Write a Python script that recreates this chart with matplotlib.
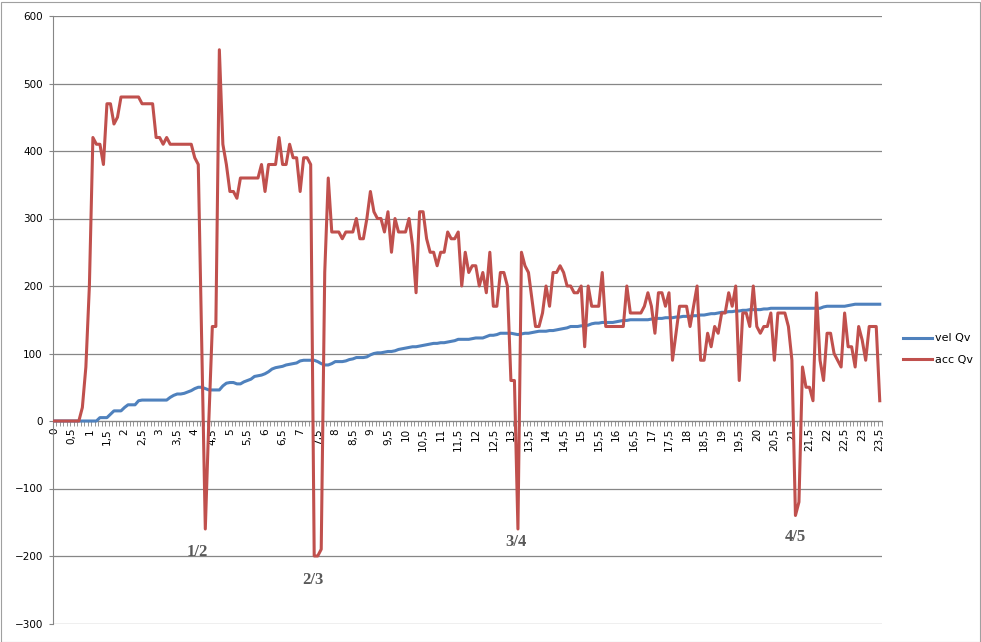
import matplotlib
matplotlib.use("Agg")
import matplotlib.pyplot as plt
from matplotlib.patches import Rectangle
from matplotlib.ticker import FixedLocator, MultipleLocator

# time categories 0.0 .. 23.5 step 0.1
time_labels = [f"{i/10:g}".replace(".", ",") for i in range(236)]

vel_qv = [0]*13 + [
    5, 5, 5, 10, 15, 15, 15, 20, 24, 24, 24, 30, 31, 31, 31, 31, 31, 31, 31, 31,
    35, 38, 40, 40, 41, 43, 45, 48, 50, 50, 48, 46, 46, 46, 46, 52, 56, 57, 57, 55,
    55, 58, 60, 62, 66, 67, 68, 70, 73, 77, 79, 80, 81, 83, 84, 85, 86, 89, 90, 90,
    90, 90, 88, 85, 83, 83, 85, 88, 88, 88, 89, 91, 92, 94, 94, 94, 95, 98, 100, 101,
    101, 102, 103, 103, 104, 106, 107, 108, 109, 110, 110, 111, 112, 113, 114, 115, 115, 116, 116, 117,
    118, 119, 121, 121, 121, 121, 122, 123, 123, 123, 125, 127, 127, 128, 130, 130, 130, 130, 129, 128,
    129, 130, 130, 131, 132, 133, 133, 133, 134, 134, 135, 136, 137, 138, 140, 140, 140, 141, 141, 142,
    144, 145, 145, 146, 146, 146, 146, 147, 148, 149, 149, 150, 150, 150, 150, 150, 150, 151, 152, 152,
    152, 153, 153, 153, 154, 154, 155, 155, 155, 156, 156, 157, 157, 158, 159, 159, 160, 161, 161, 162,
    162, 163, 163, 164, 164, 165, 165, 165, 165, 166, 166, 167, 167, 167, 167, 167, 167, 167, 167, 167,
    167, 167, 167, 167, 167, 167, 169, 170, 170, 170, 170, 170, 170, 171, 172, 173, 173, 173, 173, 173,
    173, 173, 173]

acc_qv = [
    0, 0, 0, 0, 0, 0, 0, 0, 20, 80, 200, 420, 410, 410, 380, 470, 470, 440, 450, 480,
    480, 480, 480, 480, 480, 470, 470, 470, 470, 420, 420, 410, 420, 410, 410, 410, 410, 410, 410, 410,
    390, 380, 110, -160, 0, 140, 140, 550, 410, 380, 340, 340, 330, 360, 360, 360, 360, 360, 360, 380,
    340, 380, 380, 380, 420, 380, 380, 410, 390, 390, 340, 390, 390, 380, -200, -200, -190, 220, 360, 280,
    280, 280, 270, 280, 280, 280, 300, 270, 270, 300, 340, 310, 300, 300, 280, 310, 250, 300, 280, 280,
    280, 300, 260, 190, 310, 310, 270, 250, 250, 230, 250, 250, 280, 270, 270, 280, 200, 250, 220, 230,
    230, 200, 220, 190, 250, 170, 170, 220, 220, 200, 60, 60, -160, 250, 230, 220, 180, 140, 140, 160,
    200, 170, 220, 220, 230, 220, 200, 200, 190, 190, 200, 110, 200, 170, 170, 170, 220, 140, 140, 140,
    140, 140, 140, 200, 160, 160, 160, 160, 170, 190, 170, 130, 190, 190, 170, 190, 90, 130, 170, 170,
    170, 140, 170, 200, 90, 90, 130, 110, 140, 130, 160, 160, 190, 170, 200, 60, 160, 160, 140, 200,
    140, 130, 140, 140, 160, 90, 160, 160, 160, 140, 90, -140, -120, 80, 50, 50, 30, 190, 90, 60,
    130, 130, 100, 90, 80, 160, 110, 110, 80, 140, 120, 90, 140, 140, 140, 30]

annotations = [("1/2", 43), ("2/3", 74.5), ("3/4", 132), ("4/5", 211)]
annot_y = [-160, -200, -160, -140]

W, H = 981, 642
fig = plt.figure(figsize=(W/100, H/100), dpi=100)
fig.patch.set_facecolor("white")

left, right, top, bottom = 52.5, 881.5, 16, 623.5
ax = fig.add_axes([left/W, 1-bottom/H, (right-left)/W, (bottom-top)/H])

x = list(range(len(acc_qv)))
ax.plot(x, vel_qv, color="#4F81BD", lw=2.2, label="vel Qv", solid_joinstyle="round", zorder=3)
ax.plot(x, acc_qv, color="#C0504D", lw=2.2, label="acc Qv", solid_joinstyle="round", zorder=4)

ax.set_xlim(-0.5, len(acc_qv)-0.5)
ax.set_ylim(-300, 600)
ax.yaxis.set_major_locator(MultipleLocator(100))
ax.grid(axis="y", color="#868686", lw=0.9, zorder=0)
ax.set_axisbelow(True)

for s in ["top", "right"]:
    ax.spines[s].set_visible(False)
ax.spines["left"].set_color("#868686")
ax.spines["bottom"].set_color("#868686")
ax.spines["bottom"].set_position(("data", 0))

major = list(range(0, len(acc_qv), 5))
ax.xaxis.set_major_locator(FixedLocator(major))
ax.set_xticklabels([time_labels[i] for i in major], rotation=90, fontsize=7.5,
                   family="DejaVu Sans", color="#000000")
ax.xaxis.set_minor_locator(FixedLocator([i - 0.5 for i in range(len(acc_qv)+1)]))
ax.tick_params(axis="x", which="major", length=0, pad=5)
ax.tick_params(axis="x", which="minor", length=3.5, color="#868686", direction="out")
ax.tick_params(axis="y", length=3, color="#868686", labelsize=7.5, pad=4)
for lab in ax.get_xticklabels():
    lab.set_verticalalignment("top")

for (txt, xi), yv in zip(annotations, annot_y):
    pass

# annotation positions in figure pixels
annot_px = [(197, 552), (313, 580), (516, 542), (795, 537)]
for (txt, _), (px, py) in zip(annotations, annot_px):
    fig.text(px/W, 1-py/H, txt, ha="center", va="center", fontsize=12,
             family="Liberation Serif", fontweight="bold", color="#595959")

fig.legend(loc="center left", bbox_to_anchor=(893/W, 1-349/H), frameon=False,
           fontsize=8, handlelength=2.6, labelspacing=1.0, handletextpad=0.3)

fig.add_artist(Rectangle((0.5/W, 0.5/H), 1-2/W, 1-2/H, transform=fig.transFigure,
                         fill=False, edgecolor="#A0A0A0", lw=0.8))

fig.savefig("out.png", dpi=100)
